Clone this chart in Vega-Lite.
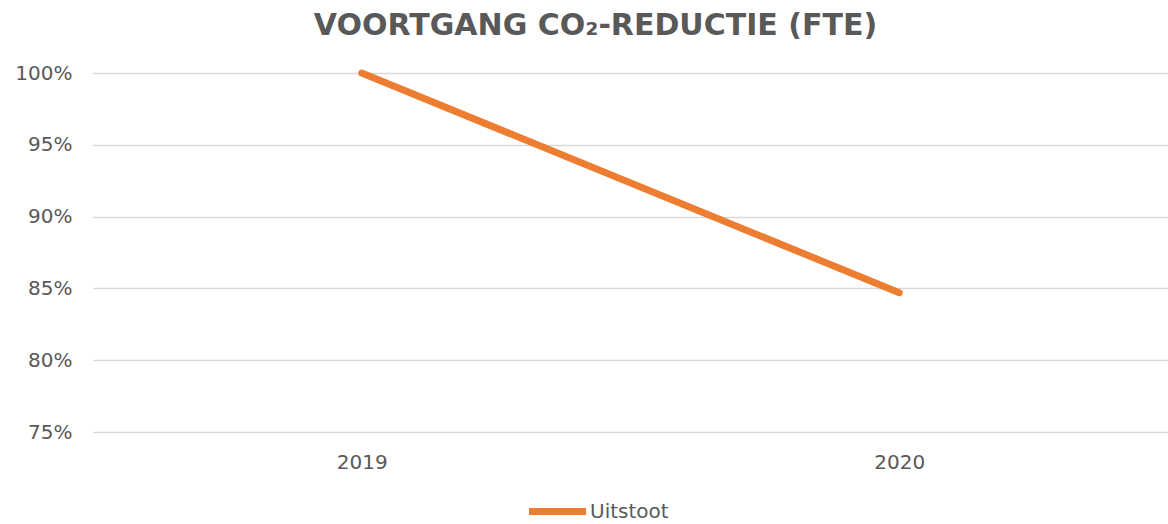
{
  "$schema": "https://vega.github.io/schema/vega-lite/v6.json",
  "autosize": {"type": "none"},
  "width": 1075,
  "height": 359,
  "padding": {"left": 93, "top": 73, "right": 0, "bottom": 92},
  "background": "white",
  "config": {"view": {"stroke": null}, "font": "DejaVu Sans"},
  "title": {
    "text": "VOORTGANG CO₂-REDUCTIE (FTE)",
    "font": "DejaVu Sans",
    "fontSize": 30,
    "fontWeight": "bold",
    "color": "#595959",
    "anchor": "middle",
    "dx": -35,
    "offset": 18
  },
  "data": {
    "values": [
      {"jaar": "2019", "waarde": 1.0, "reeks": "Uitstoot"},
      {"jaar": "2020", "waarde": 0.847, "reeks": "Uitstoot"}
    ]
  },
  "mark": {"type": "line", "strokeWidth": 7, "strokeCap": "round"},
  "encoding": {
    "x": {
      "field": "jaar",
      "type": "ordinal",
      "scale": {"paddingInner": 0, "paddingOuter": 0.5},
      "axis": {
        "title": null,
        "labelAngle": 0,
        "labelFontSize": 20,
        "labelColor": "#595959",
        "labelPadding": 20,
        "ticks": false,
        "domain": true,
        "domainColor": "#D9D9D9",
        "grid": false
      }
    },
    "y": {
      "field": "waarde",
      "type": "quantitative",
      "scale": {"domain": [0.75, 1.0], "zero": false, "nice": false},
      "axis": {
        "title": null,
        "format": ".0%",
        "values": [0.75, 0.8, 0.85, 0.9, 0.95, 1.0],
        "labelFontSize": 20,
        "labelColor": "#595959",
        "labelPadding": 21,
        "ticks": false,
        "domain": false,
        "grid": true,
        "gridColor": "#D9D9D9",
        "gridWidth": 1.5
      }
    },
    "color": {
      "field": "reeks",
      "type": "nominal",
      "scale": {"domain": ["Uitstoot"], "range": ["#ED7D31"]},
      "legend": {
        "title": null,
        "orient": "none",
        "legendX": 432,
        "legendY": 406,
        "symbolType": "stroke",
        "symbolSize": 3250,
        "symbolStrokeWidth": 7,
        "labelFontSize": 20,
        "labelColor": "#595959",
        "labelOffset": 0
      }
    }
  }
}
